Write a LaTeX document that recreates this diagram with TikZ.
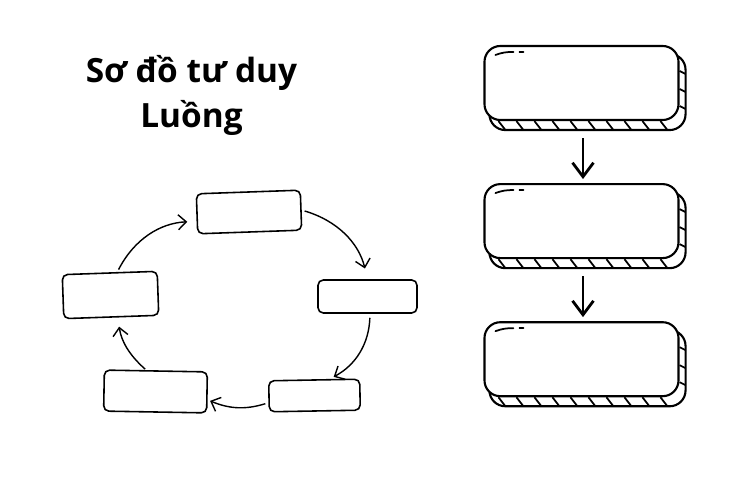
\documentclass[tikz,border=0pt]{standalone}
\usepackage{fontspec}
\setmainfont{Open Sans}
\usetikzlibrary{positioning,calc,arrows.meta,backgrounds}
\tikzset{
    hopvong/.style={draw, rounded corners=3pt, line width=0.9pt, fill=white, inner sep=0pt},
    hopkhoi/.style={draw, rounded corners=9pt, line width=1.2pt, fill=white, minimum width=3.88cm, minimum height=1.48cm, inner sep=0pt},
    muiten/.style={line width=0.8pt, -{Straight Barb[length=1.6mm, width=3mm]}},
    muitenday/.style={line width=1.6pt, -{Straight Barb[length=2.8mm, width=4.2mm]}},
    tieude/.style={font=\bfseries\fontsize{19}{25.6}\selectfont, align=center}
}

\begin{document}
\begin{tikzpicture}
    \useasboundingbox (0,0) rectangle (15,-10);

    % --- TIÊU ĐỀ ---
    \node[tieude] (tieude) at (3.83,-1.91) {Sơ đồ tư duy\\Luồng};

    % --- VÒNG LUỒNG ---
    \node[hopvong, minimum width=2.08cm, minimum height=0.8cm, rotate=2] (tren) at (4.98,-4.24) {};
    \node[hopvong, minimum width=1.98cm, minimum height=0.66cm] (phai) at (7.35,-5.93) {};
    \node[hopvong, minimum width=1.82cm, minimum height=0.62cm, rotate=1] (duoiphai) at (6.29,-7.91) {};
    \node[hopvong, minimum width=2.06cm, minimum height=0.82cm, rotate=-1] (duoitrai) at (3.11,-7.83) {};
    \node[hopvong, minimum width=1.9cm, minimum height=0.88cm, rotate=2] (trai) at (2.21,-5.9) {};

    \draw[muiten, shorten <=0.06cm, shorten >=0.22cm] (tren.east) to[bend left=30] (phai.north);
    \draw[muiten, shorten <=0.08cm, shorten >=0.1cm] ([xshift=0.5mm]phai.south) to[bend left=30] ([xshift=3mm]duoiphai.north);
    \draw[muiten, shorten <=0.06cm, shorten >=0.05cm] ([yshift=-1.3mm]duoiphai.west) to[bend left=20] ([yshift=-1.5mm]duoitrai.east);
    \draw[muiten, shorten <=0.03cm, shorten >=0.18cm] ([xshift=-1.9mm]duoitrai.north) to[bend left=20] ([xshift=1.3mm]trai.south);
    \draw[muiten, shorten <=0.06cm, shorten >=0.18cm] ([xshift=1.5mm]trai.north) to[bend left=30] ([yshift=-1.5mm]tren.west);

    % --- CỘT KHỐI ---
    \node[hopkhoi] (khoi1) at (11.63,-1.66) {};
    \node[hopkhoi, below=1.24cm of khoi1] (khoi2) {};
    \node[hopkhoi, below=1.24cm of khoi2] (khoi3) {};

    \begin{scope}[on background layer]
        \foreach \k in {khoi1,khoi2,khoi3}{
            \draw[line width=1.2pt, rounded corners=9pt] ([shift={(0.12,-0.18)}]\k.north west) rectangle ([shift={(0.12,-0.18)}]\k.south east);
            \foreach \x in {0.3,0.66,...,3.7}
                \draw[line width=1pt] ([xshift=\x cm]\k.south west) -- ++(0.14,-0.18);
            \foreach \y in {0.52,0.88,1.22}
                \draw[line width=1pt] ([yshift=-\y cm]\k.north east) -- ++(0.12,-0.06);
        }
    \end{scope}

    \foreach \k in {khoi1,khoi2,khoi3}{
        \draw[line width=1pt, line cap=round] ([shift={(0.24,-0.2)}]\k.north west) to[bend left=10] ++(0.36,0.06);
        \draw[line width=1pt, line cap=round] ([shift={(0.72,-0.14)}]\k.north west) -- ++(0.08,0);
    }

    \draw[muitenday, shorten <=0.34cm, shorten >=0.08cm] ([xshift=0.3mm]khoi1.south) -- ([xshift=0.3mm]khoi2.north);
    \draw[muitenday, shorten <=0.34cm, shorten >=0.08cm] ([xshift=0.3mm]khoi2.south) -- ([xshift=0.3mm]khoi3.north);
\end{tikzpicture}
\end{document}
